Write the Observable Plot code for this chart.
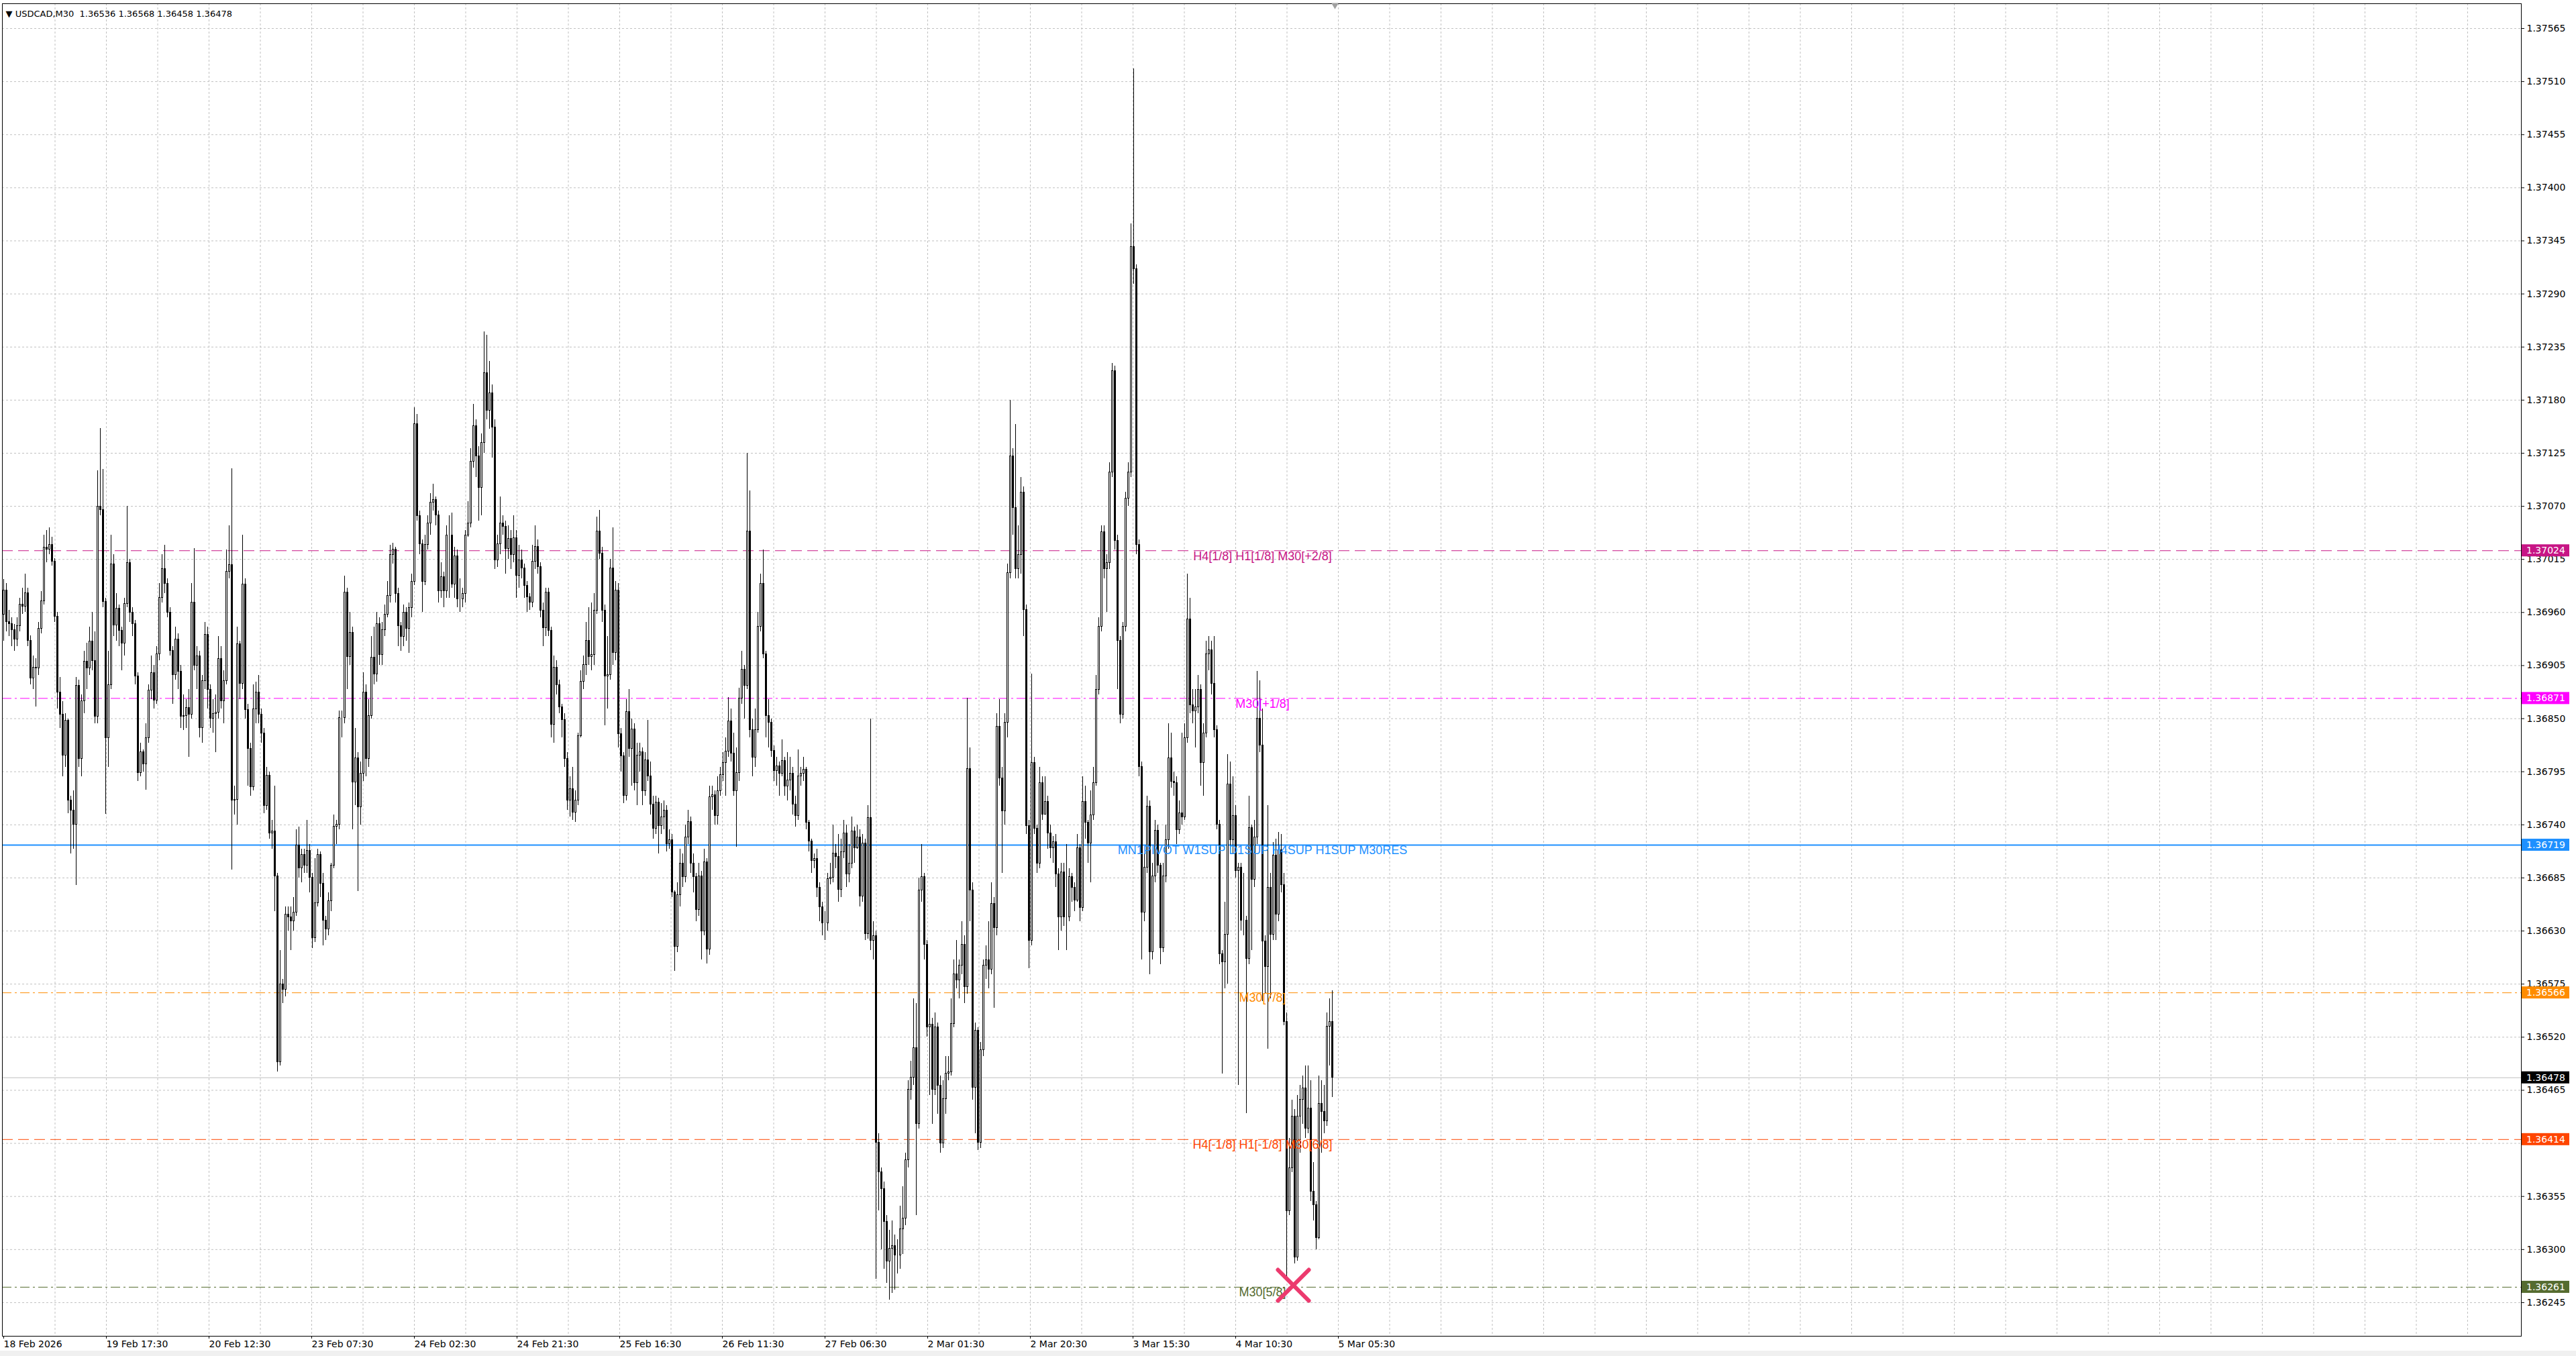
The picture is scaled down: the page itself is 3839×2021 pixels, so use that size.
<!DOCTYPE html>
<html>
<head>
<meta charset="utf-8">
<script src="https://cdn.jsdelivr.net/npm/d3@7"></script>
<script src="https://cdn.jsdelivr.net/npm/@observablehq/plot@0.6"></script>
<style>
  html, body { margin: 0; padding: 0; background: #f0f0f0; }
  #chart svg { display: block; background: #fff; }
  #chart text { white-space: pre; }
</style>
</head>
<body>
<div id="chart"></div>
<script>
// USDCAD M30 bars, values in points: price = 1.36 + p / 100000
// open of each bar = close of the bar before it
const firstOpen = 958;
const closes = [
  983,950,948,942,932,946,968,966,980,931,892,903,902,943,972,1027,1025,1030,1013,956,
  877,854,812,848,765,755,740,884,808,868,909,902,930,910,852,1070,1066,971,830,885,
  1010,947,964,941,928,969,1011,960,948,894,794,815,803,830,879,897,869,917,975,1005,
  990,960,920,895,932,899,852,853,861,854,970,905,915,840,889,937,880,850,855,856,
  912,868,889,1002,1009,765,766,927,886,989,859,819,779,860,877,854,835,760,791,731,
  733,687,494,575,569,647,644,640,649,719,695,709,698,713,685,623,659,709,679,641,
  632,661,698,738,740,851,851,981,914,939,784,809,758,793,877,808,853,913,896,948,
  916,942,958,977,1020,1025,979,946,935,960,943,965,992,1155,1060,1031,992,1030,1052,1074,
  1077,1061,982,997,982,1040,1040,989,1018,974,974,979,1040,1052,1116,1153,1122,1089,1136,1208,
  1169,1187,1152,1014,1031,1052,1049,1026,1036,1020,1037,998,1014,1006,988,976,970,1013,1028,1007,
  962,944,981,941,844,903,885,862,849,808,765,777,753,765,832,888,906,931,914,916,
  962,1044,1021,962,894,895,1006,918,983,834,811,770,857,819,839,783,812,815,775,807,
  790,761,736,763,739,748,755,720,724,670,614,667,700,686,727,743,700,686,652,687,
  630,701,611,769,771,749,775,792,804,816,847,814,775,794,871,901,884,1044,838,810,
  838,945,990,917,853,846,817,796,801,793,806,780,786,793,761,749,790,793,797,742,
  723,703,705,675,655,638,638,684,685,710,707,673,712,731,689,700,733,716,727,666,
  721,627,747,620,625,411,380,363,329,288,301,304,294,294,321,332,393,466,478,509,
  430,672,686,616,530,533,466,530,470,410,456,482,484,534,585,579,594,616,572,798,
  672,468,527,411,507,594,600,590,658,633,842,788,754,846,1001,1122,1068,1005,1020,1084,
  963,739,620,804,736,700,783,751,764,731,716,722,689,644,691,644,644,686,675,662,
  716,654,764,742,721,750,783,880,945,1043,1005,1011,1105,1210,1034,931,854,945,1078,1105,
  1339,1316,1030,800,649,696,759,608,687,734,698,612,687,724,809,785,783,735,752,748,
  830,953,864,858,862,880,804,835,917,921,886,838,740,606,598,626,782,724,749,692,
  696,641,641,601,737,683,727,850,822,619,593,675,626,708,647,714,678,536,340,384,
  438,292,438,455,467,425,446,360,346,312,451,443,433,531,536,478
];
const highs = [
  994,990,962,955,948,955,975,985,1000,985,936,915,912,950,982,1040,1045,1048,1038,1016,
  960,893,868,855,850,770,775,893,890,875,920,928,945,960,940,1107,1151,1108,975,920,
  1040,1020,980,968,945,975,1070,1015,965,952,898,825,818,845,885,915,905,925,990,1020,
  1030,995,965,925,945,938,905,875,870,880,990,1026,925,920,895,950,945,885,870,875,
  935,925,900,1025,1050,1109,780,945,930,1040,995,865,825,885,888,895,860,840,800,795,
  745,780,690,610,580,655,655,655,665,735,738,715,715,745,720,690,705,715,712,690,
  645,670,700,750,745,858,858,998,985,960,945,840,815,805,898,885,870,935,945,960,
  955,950,968,992,1030,1032,1028,985,950,968,965,970,1000,1172,1165,1065,1035,1040,1060,1083,
  1093,1080,1065,1012,1002,1050,1060,1063,1028,1025,995,985,1045,1075,1130,1176,1160,1132,1145,1251,
  1247,1220,1196,1160,1040,1080,1060,1055,1050,1045,1060,1045,1030,1025,1010,992,980,1030,1050,1035,
  1012,970,985,985,945,915,910,890,865,855,815,790,800,775,835,900,915,950,965,970,
  980,1059,1066,1028,968,935,1015,1048,992,990,840,815,870,880,850,845,825,825,820,815,
  848,805,770,770,768,762,765,760,735,730,672,680,715,710,740,755,748,710,690,700,
  692,715,705,780,780,775,790,800,815,830,872,860,835,820,882,920,905,1125,1086,850,
  860,960,1000,1025,920,870,850,822,810,805,828,810,815,810,800,770,818,800,810,800,
  745,725,710,715,680,660,650,690,700,740,720,730,725,745,740,720,748,738,740,735,
  730,725,760,850,640,630,420,385,370,335,320,330,315,310,345,365,400,475,495,560,
  555,685,720,690,620,560,540,545,535,480,475,500,500,560,600,620,600,640,625,871,
  820,680,535,530,515,600,615,640,680,665,855,870,800,855,1010,1180,1130,1155,1050,1100,
  1090,968,745,896,810,740,800,790,790,770,740,728,730,695,700,700,720,695,690,680,
  730,720,790,780,745,775,800,895,955,1050,1050,1020,1115,1218,1215,1040,935,950,1085,1115,
  1363,1523,1320,1035,805,710,770,765,700,745,740,700,700,740,845,835,795,790,765,835,
  845,1000,975,880,880,895,885,845,930,935,930,935,843,745,610,660,813,805,790,760,
  700,700,690,645,770,740,745,899,889,860,625,760,690,722,725,732,730,690,545,415,
  455,445,460,470,480,490,490,475,390,350,480,475,470,545,560,568
];
const lows = [
  930,940,935,925,920,925,940,958,960,925,885,880,862,895,938,968,1012,1020,1008,950,
  860,840,790,800,752,710,715,677,800,790,855,880,895,900,845,845,1060,965,751,800,
  880,935,930,925,900,915,965,950,935,885,785,790,795,776,825,870,860,865,910,970,
  980,955,915,865,890,880,840,838,840,810,850,900,880,830,825,880,860,840,835,815,
  850,860,845,885,995,693,750,740,870,880,850,780,770,775,845,845,825,752,755,725,
  715,650,484,490,555,562,630,610,630,645,685,680,690,690,670,612,618,655,665,615,
  620,625,650,695,720,735,830,845,880,905,735,760,671,740,785,790,800,850,885,888,
  905,905,935,955,970,1010,970,925,920,925,930,918,955,988,1055,1020,960,988,1025,1040,
  1065,1050,970,975,965,975,975,985,975,965,960,965,970,1038,1048,1110,1100,1055,1060,1125,
  1160,1150,1120,1005,1007,1020,1040,1000,1015,1005,1012,975,985,995,975,960,962,965,1005,1000,
  955,925,935,935,830,825,875,855,830,800,755,748,745,743,760,830,880,895,905,900,
  905,958,1015,950,843,860,890,905,910,820,795,762,765,810,780,775,760,795,760,770,
  785,750,725,730,710,730,735,712,715,665,588,608,655,675,680,720,690,670,640,645,
  600,625,596,605,755,740,740,770,785,770,810,805,770,717,785,865,850,880,830,790,
  800,835,940,912,830,820,810,785,780,770,790,770,765,775,750,738,745,780,785,735,
  712,690,695,665,640,625,620,630,678,680,695,660,665,705,675,680,695,700,715,655,
  660,620,622,610,600,269,340,300,280,265,248,255,258,275,280,295,325,385,455,470,
  335,425,660,600,520,460,430,460,440,400,405,440,475,480,530,570,560,585,555,565,
  640,455,420,403,405,500,580,570,585,550,625,780,690,740,830,995,1040,995,995,1000,
  935,730,591,615,730,690,695,745,750,715,705,700,675,610,630,635,610,640,660,650,
  660,640,650,725,700,680,745,780,875,940,995,960,1005,1100,1025,880,845,850,940,1070,
  1100,1300,1020,790,600,640,690,585,600,680,690,595,608,680,715,778,770,720,730,740,
  745,825,855,845,820,855,780,770,830,900,875,830,735,595,482,570,575,715,710,685,
  470,630,625,441,595,610,675,720,815,557,565,508,560,620,620,640,670,532,271,335,
  380,285,288,400,430,415,420,350,330,300,310,400,420,428,490,458
];

const header = "▼ USDCAD,M30  1.36536 1.36568 1.36458 1.36478";
const lastPrice = 1.36478;

const timeLabels = [
  "18 Feb 2026", "19 Feb 17:30", "20 Feb 12:30", "23 Feb 07:30", "24 Feb 02:30",
  "24 Feb 21:30", "25 Feb 16:30", "26 Feb 11:30", "27 Feb 06:30", "2 Mar 01:30",
  "2 Mar 20:30", "3 Mar 15:30", "4 Mar 10:30", "5 Mar 05:30"
];
const priceTicks = [
  1.36245, 1.36300, 1.36355, 1.36410, 1.36465, 1.36520, 1.36575, 1.36630, 1.36685,
  1.36740, 1.36795, 1.36850, 1.36905, 1.36960, 1.37015, 1.37070, 1.37125, 1.37180,
  1.37235, 1.37290, 1.37345, 1.37400, 1.37455, 1.37510, 1.37565
];

// Murrey / pivot levels
const levelPrices = [1.37024, 1.36871, 1.36719, 1.36566, 1.36414, 1.36261];
const levelNames = [
  "H4[1/8] H1[1/8] M30[+2/8]",
  "M30[+1/8]",
  "MN1PIVOT W1SUP D1SUP H4SUP H1SUP M30RES",
  "M30[7/8]",
  "H4[-1/8] H1[-1/8] M30[6/8]",
  "M30[5/8]"
];
const marker = {bar: 480.5, price: 1.36263};
const shiftBar = 496;   // chart-shift marker, one slot past the last bar

// styles
const levelColors = ["#C71585", "#FF00FF", "#1E90FF", "#FF8C00", "#FF4500", "#556B2F"];
const levelDash = ["16,8", "14,5,3,5", null, "14,5,3,5", "16,8", "14,5,3,5"];
const levelWidth = [1, 1, 2, 1, 1, 1];

const pt = (p) => 1.36 + p / 1e5;
const bars = closes.map((c, i) => ({
  i,
  open: pt(i === 0 ? firstOpen : closes[i - 1]),
  close: pt(c),
  high: pt(highs[i]),
  low: pt(lows[i])
}));
const levels = levelPrices.map((p, k) => ({price: p, name: levelNames[k], k}));
const boxes = levelPrices.map((p, k) => ({p, c: levelColors[k]})).concat([{p: lastPrice, c: "#000"}]);

const labelEvery = 38.25;     // bar slots between time labels on screen
const tickPos = timeLabels.map((_, k) => k * labelEvery);
const gridPos = d3.range(1, 49).map((j) => j * labelEvery / 2);
const labelBar = 469;

// a tick label that sits right under a price box is hidden, as in the terminal
const hidden = (t) => boxes.some((b) => Math.abs(b.p - t) < 0.00006);

const plot = Plot.plot({
  width: 3839,
  height: 2013,
  marginLeft: 3,
  marginTop: 5,
  marginRight: 82,
  marginBottom: 22,
  x: {domain: [-0.5, 938], axis: null},
  y: {domain: [1.362102, 1.375907], axis: null},
  style: {fontFamily: "DejaVu Sans", fontSize: "14px", background: "#fff", overflow: "visible"},
  marks: [
    Plot.gridY(priceTicks, {stroke: "#c0c0c0", strokeOpacity: 1, strokeDasharray: "3,3"}),
    Plot.gridX(gridPos, {stroke: "#c0c0c0", strokeOpacity: 1, strokeDasharray: "3,3"}),
    levels.map((d) =>
      Plot.ruleY([d.price], {
        stroke: levelColors[d.k],
        strokeWidth: levelWidth[d.k],
        strokeDasharray: levelDash[d.k]
      })
    ),
    Plot.ruleY([lastPrice], {stroke: "#c0c0c0", strokeWidth: 1}),
    Plot.ruleX(bars, {x: "i", y1: "low", y2: "high", stroke: "#000", strokeWidth: 1, shapeRendering: "crispEdges"}),
    Plot.rect(bars, {
      x1: (d) => d.i - 0.25,
      x2: (d) => d.i + 0.25,
      y1: "open",
      y2: "close",
      fill: (d) => (d.close >= d.open ? "white" : "black"),
      stroke: "#000",
      strokeWidth: 1,
      shapeRendering: "crispEdges"
    }),
    Plot.text(levels, {
      x: () => labelBar,
      y: "price",
      text: "name",
      fill: (d) => levelColors[d.k],
      fontFamily: "Liberation Sans, Arial, sans-serif",
      fontSize: 18,
      lineAnchor: "top",
      dy: 1
    }),
    Plot.dot([marker], {
      x: "bar",
      y: "price",
      symbol: "times",
      r: 21,
      stroke: "#EC3A6E",
      strokeWidth: 6,
      strokeLinecap: "round"
    }),
    Plot.frame({stroke: "#000"}),
    Plot.dot([shiftBar], {
      x: (d) => d,
      frameAnchor: "top",
      symbol: "triangle",
      rotate: 180,
      r: 4,
      fill: "#a0a0a0",
      stroke: null,
      dy: 2
    }),
    Plot.axisY(priceTicks, {
      anchor: "right",
      label: null,
      tickSize: 4,
      tickPadding: 4,
      tickFormat: (d) => (hidden(d) ? "" : d.toFixed(5)),
      fontSize: 14,
      fill: "#000"
    }),
    Plot.axisX(tickPos, {
      anchor: "bottom",
      label: null,
      tickSize: 4,
      tickPadding: 3,
      textAnchor: "start",
      tickFormat: (d) => timeLabels[Math.round(d / labelEvery)],
      fontSize: 14,
      fill: "#000"
    }),
    Plot.text([header], {
      frameAnchor: "top-left",
      text: (d) => d,
      textAnchor: "start",
      lineAnchor: "middle",
      dx: 5,
      dy: 15,
      fontSize: 13,
      fill: "#000"
    })
  ]
});

// coloured price boxes on the right axis
const ys = plot.scale("y");
const g = d3.select(plot).append("g");
g.selectAll("rect").data(boxes).join("rect")
  .attr("x", 3758).attr("width", 71)
  .attr("y", (d) => ys.apply(d.p) - 9).attr("height", 18)
  .attr("fill", (d) => d.c);
g.selectAll("text").data(boxes).join("text")
  .attr("x", 3765).attr("y", (d) => ys.apply(d.p))
  .attr("dy", "0.35em")
  .attr("text-anchor", "start")
  .attr("fill", "#fff")
  .attr("font-family", "DejaVu Sans")
  .attr("font-size", 14)
  .text((d) => d.p.toFixed(5));

document.querySelector("#chart").append(plot);
</script>
</body>
</html>
